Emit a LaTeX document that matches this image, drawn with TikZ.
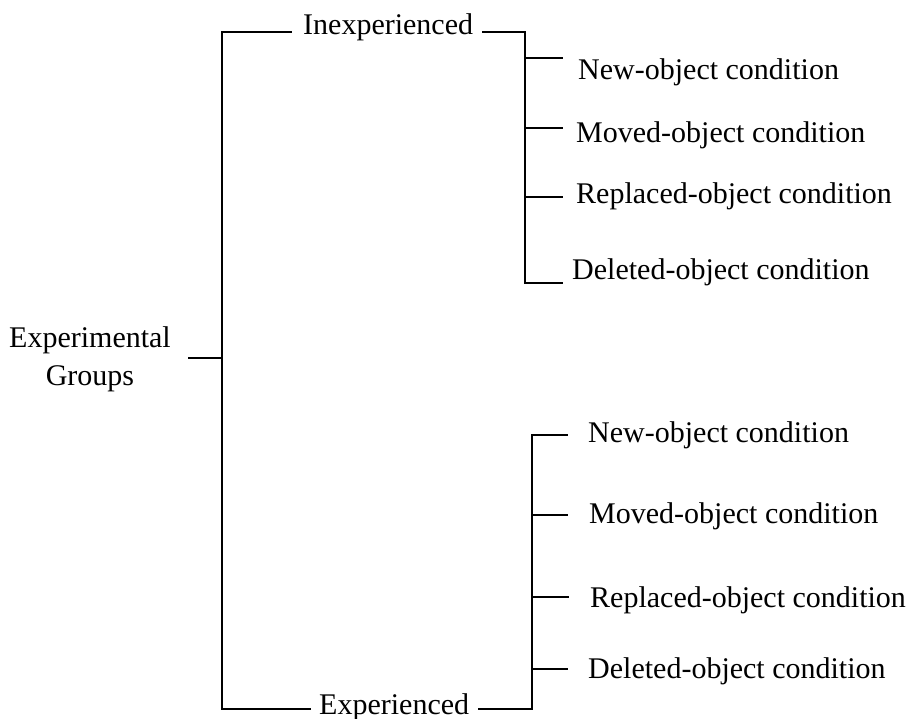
\documentclass[tikz,border=0pt]{standalone}
\usepackage{fontspec}
\setmainfont{Liberation Serif}
\begin{document}
\begin{tikzpicture}[x=1pt,y=-1pt,
  lbl/.style={inner sep=0pt, font=\fontsize{30}{38}\selectfont, anchor=base west},
  ln/.style={line width=1.5pt, line cap=rect}]
\useasboundingbox (0,0) rectangle (917,719);
% text nodes
\node[lbl, anchor=north, align=center] (grp) at (90,326.5) {Experimental\\Groups};
\node[lbl] (inexp) at (303,35) {Inexperienced};
\node[lbl] (exp) at (319,714) {Experienced};
\node[lbl] (un) at (578,80) {New-object condition};
\node[lbl] (um) at (576,143) {Moved-object condition};
\node[lbl] (ur) at (576,204) {Replaced-object condition};
\node[lbl] (ud) at (572,279) {Deleted-object condition};
\node[lbl] (ln1) at (588,442) {New-object condition};
\node[lbl] (lm) at (589,523) {Moved-object condition};
\node[lbl] (lr) at (590,607) {Replaced-object condition};
\node[lbl] (ld) at (588,678) {Deleted-object condition};
% junction coordinates
\coordinate (rootT) at (222,32);
\coordinate (rootM) at (222,358);
\coordinate (rootB) at (222,709);
\coordinate (u1) at (525,58);
\coordinate (u2) at (525,128);
\coordinate (u3) at (525,197);
\coordinate (u4) at (525,283);
\coordinate (upT) at (525,32);
\coordinate (l1) at (532,435);
\coordinate (l2) at (532,515);
\coordinate (l3) at (532,597);
\coordinate (l4) at (532,669);
\coordinate (loB) at (532,709);
% root bracket
\draw[ln] (rootT) -- (rootB);
\draw[ln, shorten <=18pt] (grp.east |- rootM) -- (rootM);
\draw[ln, shorten >=12pt] (rootT) -- (rootT -| inexp.west);
\draw[ln, shorten >=9pt] (rootB) -- (rootB -| exp.west);
% upper group
\draw[ln, shorten <=9pt] (inexp.east |- upT) -- (upT);
\draw[ln] (upT) -- (u4);
\draw[ln, shorten >=16pt] (u1) -- (u1 -| un.west);
\draw[ln, shorten >=14pt] (u2) -- (u2 -| um.west);
\draw[ln, shorten >=14pt] (u3) -- (u3 -| ur.west);
\draw[ln, shorten >=10pt] (u4) -- (u4 -| ud.west);
% lower group
\draw[ln, shorten <=9pt] (exp.east |- loB) -- (loB);
\draw[ln] (l1) -- (loB);
\draw[ln, shorten >=21pt] (l1) -- (l1 -| ln1.west);
\draw[ln, shorten >=22pt] (l2) -- (l2 -| lm.west);
\draw[ln, shorten >=22pt] (l3) -- (l3 -| lr.west);
\draw[ln, shorten >=21pt] (l4) -- (l4 -| ld.west);
\end{tikzpicture}
\end{document}
